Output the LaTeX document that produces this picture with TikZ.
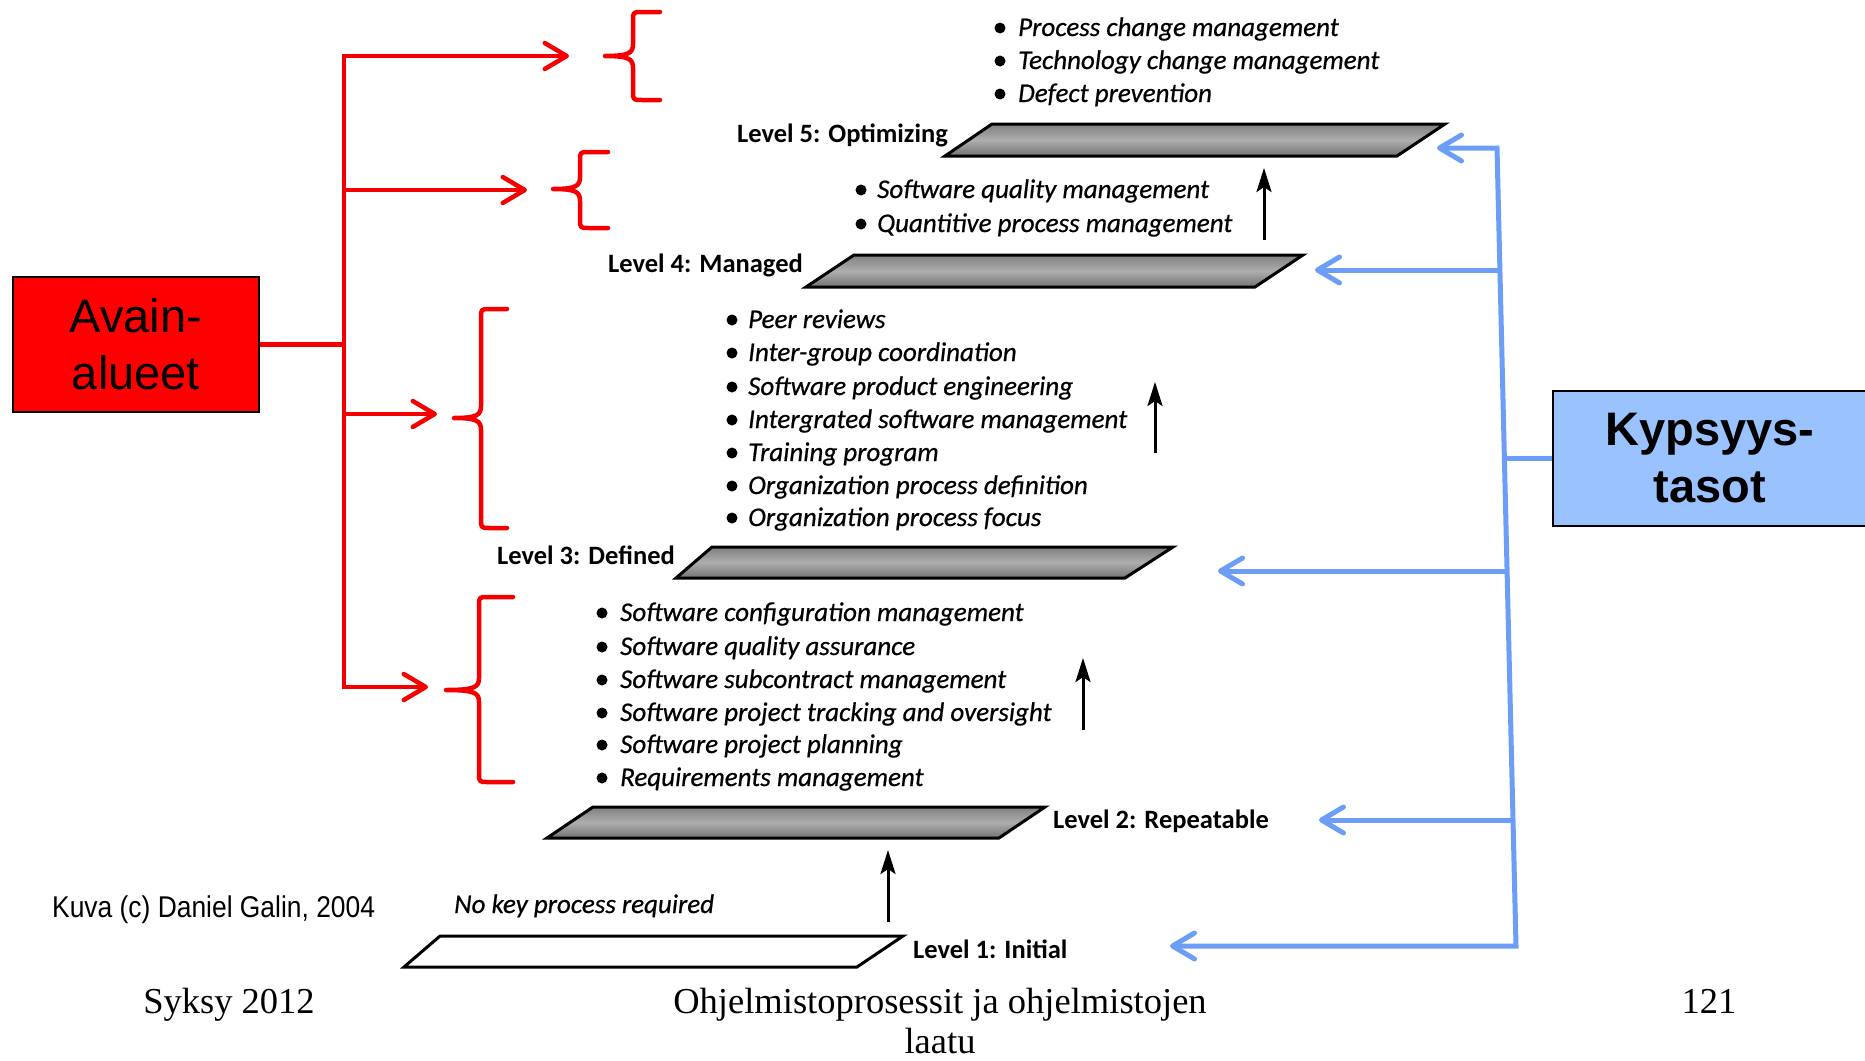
\documentclass[tikz,border=0pt]{standalone}
\usepackage{fontspec}
\setmainfont{Liberation Serif}
\newfontfamily\arialfont{Liberation Sans}
\newfontfamily\kuvafont[FakeStretch=0.88]{Liberation Sans}
\newfontfamily\calfont{Carlito}
\newfontfamily\calitfont[FakeBold=0.6]{Carlito Italic}
\usetikzlibrary{arrows.meta}
\definecolor{boxred}{RGB}{255,0,0}
\definecolor{lnred}{RGB}{245,0,0}
\definecolor{boxblue}{RGB}{153,194,255}
\definecolor{lnblue}{RGB}{108,158,248}
\newcommand\redbrace[6]{%
  \draw[redln] (#1,#4) -- (#2+9,#4) .. controls (#2,#4) .. (#2,#4+9) -- (#2,#5-12)
    .. controls (#2,#5-3) and (#2-4,#5) .. (#3,#5)
    .. controls (#2-4,#5) and (#2,#5+3) .. (#2,#5+12) -- (#2,#6-9)
    .. controls (#2,#6) .. (#2+9,#6) -- (#1,#6);}
\begin{document}
\begin{tikzpicture}[x=1pt,y=-1pt,
  redln/.style={draw=lnred, line width=4.5pt, line cap=round, line join=round},
  treered/.style={draw=lnred, line width=4.5pt, line join=miter},
  redarr/.style={treered, -{Straight Barb[length=22pt,width=26pt,line cap=round,line join=round]}},
  redboth/.style={treered, {Straight Barb[length=22pt,width=26pt,line cap=round,line join=round]}-{Straight Barb[length=22pt,width=26pt,line cap=round,line join=round]}},
  treeblue/.style={draw=lnblue, line width=5pt, line join=miter},
  bluearr/.style={treeblue, -{Straight Barb[length=22pt,width=26pt,line cap=round,line join=round]}},
  blueboth/.style={treeblue, {Straight Barb[length=22pt,width=26pt,line cap=round,line join=round]}-{Straight Barb[length=22pt,width=26pt,line cap=round,line join=round]}},
  item/.style={anchor=base west, inner sep=0pt, font=\calitfont\fontsize{27}{33}\selectfont},
  lvl/.style={inner sep=0pt, font=\calfont\bfseries\fontsize{26.5}{32}\selectfont},
  plate/.style={draw=black, line width=3pt, line join=miter, top color=black!50, bottom color=black!55, middle color=black!32},
  uparr/.style={draw=black, line width=3pt, -{Stealth[length=24pt,width=15pt,inset=5pt]}},
  bigbox/.style={draw=black, line width=2.5pt, minimum width=246pt, minimum height=135pt, inner sep=0pt, align=center, font=\arialfont\fontsize{47}{57}\selectfont},
  foot/.style={anchor=base, inner sep=0pt, font=\fontsize{36.5}{44}\selectfont}
]
\path[use as bounding box] (0,0) rectangle (1865,1060);

% ---------- plates (levels) ----------
\path[plate] (992,124) -- (1445,124) -- (1397,156) -- (945,156) -- cycle;
\path[plate] (854,255) -- (1303,255) -- (1255,287) -- (806,287) -- cycle;
\path[plate] (712,547) -- (1173,547) -- (1125,578) -- (676,578) -- cycle;
\path[plate] (593,807) -- (1045,807) -- (999,838) -- (547,838) -- cycle;
\draw[line width=3pt, line join=miter, fill=white] (440,936) -- (903,936) -- (857,967) -- (404,967) -- cycle;

% ---------- level labels ----------
\node[lvl, anchor=base east] (lab5) at (948,142) {Level 5: Optimizing};
\node[lvl, anchor=base east] (lab4) at (803,272) {Level 4: Managed};
\node[lvl, anchor=base east] (lab3) at (675,564) {Level 3: Defined};
\node[lvl, anchor=base west] (lab2) at (1053,828) {Level 2: Repeatable};
\node[lvl, anchor=base west] (lab1) at (913,958) {Level 1: Initial};

% ---------- key process areas ----------
\foreach \n/\y/\t in {a/36/Process change management, b/69/Technology change management, c/102/Defect prevention} {
  \fill (1000,\y-8) circle (5.5pt);
  \node[item] (l5\n) at (1018,\y) {\t};
}
\foreach \n/\y/\t in {a/198/Software quality management, b/232/Quantitive process management} {
  \fill (861,\y-8) circle (5.5pt);
  \node[item] (l4\n) at (877,\y) {\t};
}
\foreach \n/\y/\t in {a/328/Peer reviews, b/361/Inter-group coordination, c/395/Software product engineering, d/428/Intergrated software management, e/461/Training program, f/494/Organization process definition, g/526/Organization process focus} {
  \fill (732,\y-8) circle (5.5pt);
  \node[item] (l3\n) at (748,\y) {\t};
}
\foreach \n/\y/\t in {a/621/Software configuration management, b/655/Software quality assurance, c/688/Software subcontract management, d/721/Software project tracking and oversight, e/753/Software project planning, f/786/Requirements management} {
  \fill (602,\y-8) circle (5.5pt);
  \node[item] (l2\n) at (620,\y) {\t};
}
\node[item] (l1a) at (454,913) {No key process required};

% ---------- upward arrows ----------
\coordinate (k5s) at (1264,240); \coordinate (k5e) at (1264,168);
\coordinate (k4s) at (1155,453); \coordinate (k4e) at (1155,382);
\coordinate (k3s) at (1083,730); \coordinate (k3e) at (1083,658);
\coordinate (k2s) at (888,922);  \coordinate (k2e) at (888,850);
\draw[uparr] (k5s) -- (k5e);
\draw[uparr] (k4s) -- (k4e);
\draw[uparr] (k3s) -- (k3e);
\draw[uparr] (k2s) -- (k2e);

% ---------- red part ----------
\node[bigbox, fill=boxred] (avain) at (136,344.5) {Avain-\\alueet};
\redbrace{660}{633}{605}{12}{56}{100}
\redbrace{608}{580}{553}{152}{189}{228}
\redbrace{507}{481}{454}{309}{418}{528}
\redbrace{513}{479}{446}{597}{690}{782}
\coordinate (rtop) at (344,56);  \coordinate (rbot) at (344,687);
\coordinate (ra1) at (569,56);   \coordinate (ra4) at (428,687);
\coordinate (rj2) at (344,190);  \coordinate (ra2) at (527,190);
\coordinate (rj3) at (344,414);  \coordinate (ra3) at (437,414);
\coordinate (rjA) at (344,344.5);
\draw[redboth] (ra1) -- (rtop) -- (rbot) -- (ra4);
\draw[redarr] (rj2) -- (ra2);
\draw[redarr] (rj3) -- (ra3);
\draw[treered] (avain.east) -- (rjA);

% ---------- blue part ----------
\node[bigbox, fill=boxblue, minimum width=314pt, font=\arialfont\bfseries\fontsize{47}{57}\selectfont] (kyps) at (1710,458.5) {Kypsyys-\\tasot};
\coordinate (btop) at (1497,148);  \coordinate (bbot) at (1516,946);
\coordinate (ba5) at (1437,148);   \coordinate (ba1) at (1170,946);
\coordinate (bj4) at (1500,270);   \coordinate (ba4) at (1315,270);
\coordinate (bj3) at (1507,571);   \coordinate (ba3) at (1218,571);
\coordinate (bj2) at (1513,820);   \coordinate (ba2) at (1319,820);
\coordinate (bjK) at (1504.5,458.5);
\draw[blueboth] (ba5) -- (btop) -- (bbot) -- (ba1);
\draw[bluearr] (bj4) -- (ba4);
\draw[bluearr] (bj3) -- (ba3);
\draw[bluearr] (bj2) -- (ba2);
\draw[treeblue] (kyps.west) -- (bjK);

% ---------- credits and footer ----------
\node[anchor=base west, inner sep=0pt, font=\kuvafont\fontsize{30}{36}\selectfont] (kuva) at (52,917) {Kuva (c) Daniel Galin, 2004};
\node[foot] (syksy) at (229,1013) {Syksy 2012};
\node[foot] (title1) at (940,1013) {Ohjelmistoprosessit ja ohjelmistojen};
\node[foot] (title2) at (940,1053) {laatu};
\node[foot] (page) at (1709,1013) {121};
\end{tikzpicture}
\end{document}
